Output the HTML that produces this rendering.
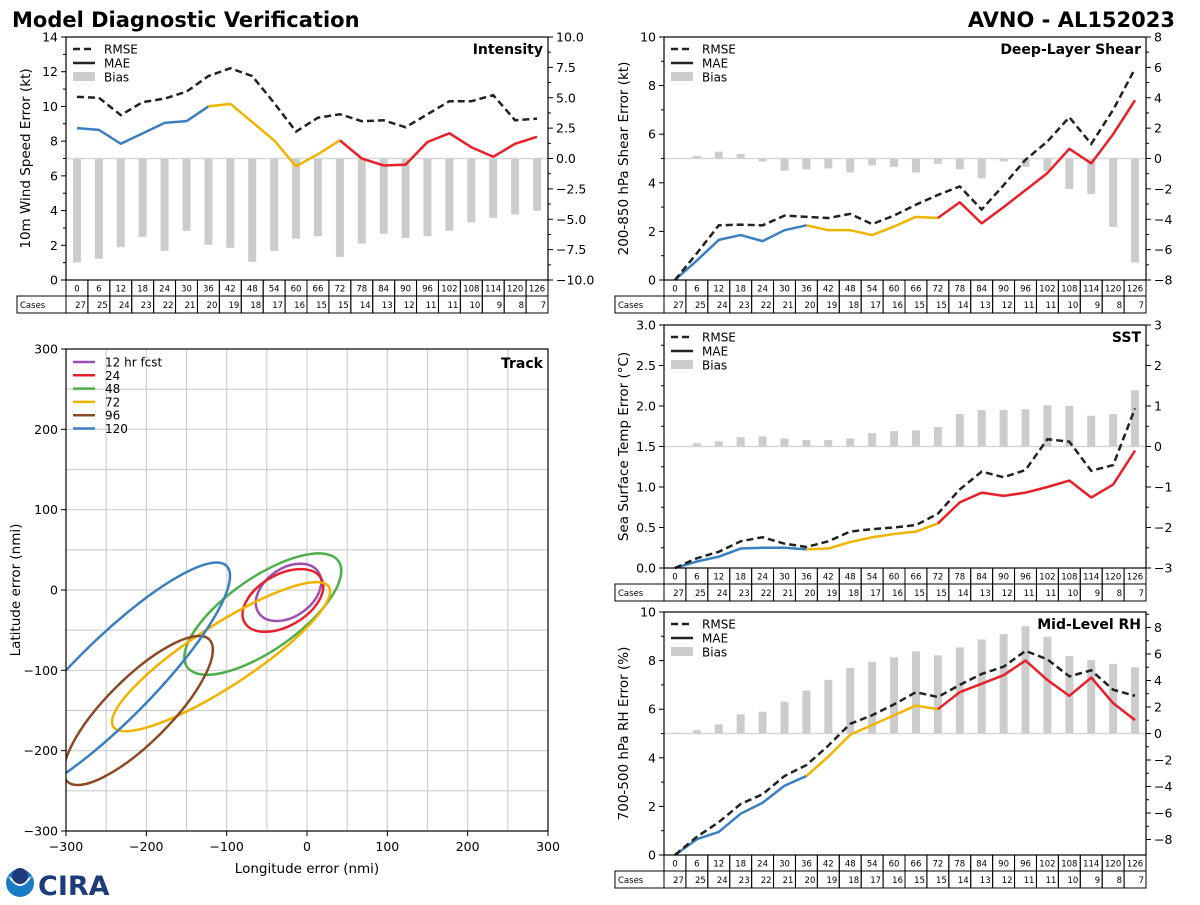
<!DOCTYPE html>
<html><head><meta charset="utf-8"><style>
html,body{margin:0;padding:0;background:#fff;}
svg text{font-family:"DejaVu Sans","Liberation Sans",sans-serif;}
</style></head><body>
<svg id="root" width="1200" height="900" xmlns="http://www.w3.org/2000/svg">
<rect width="1200" height="900" fill="#fff"/>
<text x="12" y="27" font-size="21" font-weight="bold">Model Diagnostic Verification</text>
<text x="1175" y="27" font-size="21" font-weight="bold" text-anchor="end">AVNO - AL152023</text>
<g>
<circle cx="20" cy="883" r="14" fill="#1a7cc4"/>
<path d="M8 876 Q20 896 32 876 Q20 884 8 876Z" fill="#fff"/>
<circle cx="20" cy="876" r="8" fill="#1e3b7a"/>
<text x="38" y="895" font-size="27" font-weight="bold" fill="#1e3b7a" font-family="Liberation Serif,serif">CIRA</text>
</g>
<g id="panels"></g>
</svg>
<script>
const hours = [0,6,12,18,24,30,36,42,48,54,60,66,72,78,84,90,96,102,108,114,120,126];
const cases = [27,25,24,23,22,21,20,19,18,17,16,15,15,14,13,12,11,11,10,9,8,7];

const intRmse = [10.55,10.5,9.5,10.25,10.45,10.85,11.75,12.2,11.75,10.2,8.55,9.35,9.55,9.15,9.2,8.8,9.55,10.3,10.3,10.65,9.2,9.3];
const intMae = [8.75,8.65,7.85,8.45,9.05,9.15,10.0,10.15,9.1,8.05,6.55,7.25,8.05,7.0,6.6,6.65,7.95,8.45,7.65,7.1,7.85,8.25];
const intBias = [-8.55,-8.25,-7.3,-6.45,-7.6,-5.95,-7.1,-7.35,-8.5,-7.6,-6.6,-6.4,-8.1,-7.0,-6.2,-6.55,-6.4,-5.95,-5.25,-4.9,-4.6,-4.3];

const shrRmse = [0,1.1,2.25,2.28,2.25,2.65,2.6,2.55,2.72,2.3,2.65,3.1,3.5,3.85,2.9,3.9,4.95,5.7,6.7,5.6,7.0,8.7];
const shrMae = [0,0.8,1.65,1.85,1.6,2.05,2.25,2.05,2.05,1.85,2.2,2.6,2.55,3.2,2.33,3.0,3.7,4.4,5.4,4.8,6.0,7.4];
const shrBias = [0,0.17,0.45,0.3,-0.2,-0.8,-0.72,-0.65,-0.92,-0.45,-0.55,-0.92,-0.35,-0.72,-1.3,-0.2,-0.55,-0.85,-2.0,-2.35,-4.5,-6.85];

const sstRmse = [0,0.12,0.2,0.33,0.38,0.3,0.26,0.33,0.45,0.48,0.5,0.53,0.67,0.97,1.19,1.12,1.21,1.59,1.56,1.2,1.27,1.97];
const sstMae = [0,0.08,0.14,0.24,0.25,0.25,0.23,0.24,0.32,0.38,0.42,0.45,0.55,0.81,0.93,0.89,0.93,1.0,1.08,0.87,1.03,1.45];
const sstBias = [0,0.08,0.13,0.23,0.25,0.2,0.16,0.16,0.2,0.33,0.38,0.4,0.48,0.8,0.9,0.9,0.92,1.02,1.0,0.76,0.8,1.39];

const rhRmse = [0,0.75,1.35,2.1,2.5,3.25,3.7,4.5,5.4,5.75,6.2,6.7,6.5,7.0,7.45,7.75,8.4,8.05,7.35,7.6,6.8,6.55];
const rhMae = [0,0.65,0.95,1.7,2.15,2.85,3.25,4.05,4.95,5.35,5.75,6.15,6.0,6.7,7.05,7.4,8.0,7.2,6.55,7.3,6.25,5.55];
const rhBias = [0.07,0.25,0.7,1.45,1.65,2.4,3.25,4.05,4.95,5.4,5.75,6.2,5.9,6.5,7.1,7.5,8.1,7.3,5.85,5.55,5.25,5.0];

const trkLabels = ["12 hr fcst","24","48","72","96","120"];
const trkCx = [-23,-30,-55,-107,-210,-245];
const trkCy = [-3,-13,-30,-83,-150,-115];
const trkA = [45,55,115,160,125,205];
const trkB = [30,32,45,38,40,50];
const trkAng = [35,30,35,33,45,45];
const trkTicks = [-300,-200,-100,0,100,200,300];

const NS="http://www.w3.org/2000/svg";
const root=document.getElementById('panels');
function mk(tag,attrs,parent,txt){const e=document.createElementNS(NS,tag);for(const k in attrs)e.setAttribute(k,attrs[k]);if(txt!==undefined)e.textContent=txt;(parent||root).appendChild(e);return e;}
const SEG=[["#3a7fc0",0,6],["#f0b400",6,12],["#e8202a",12,21]];

function panel(o){
  const g=mk('g',{});
  
  
  const L=o.x,R=o.x+482,T=o.y,B=o.y+243,W=482/22;
  const xs=i=>L+(i+0.5)*W;
  const yl=v=>B-(v-o.lmin)/(o.lmax-o.lmin)*243;
  const yr=v=>B-(v-o.rmin)/(o.rmax-o.rmin)*243;
  const z=mk('line',{x1:L,x2:R,y1:yr(0),y2:yr(0),stroke:'#d8d8d8','stroke-width':1.5},g);
  
  
  o.bias.forEach((v,i)=>{
    const r=mk('rect',{x:xs(i)-4,width:8,y:Math.min(yr(0),yr(v)),height:Math.abs(yr(v)-yr(0)),fill:'#cccccc'},g);
    
    
  });
  SEG.forEach(s=>{
    let p=[];for(let i=s[1];i<=s[2];i++)p.push(xs(i)+','+yl(o.mae[i]));
    const l=mk('polyline',{points:p.join(' '),fill:'none',stroke:s[0],'stroke-width':2.5,'stroke-linejoin':'round'},g);
    
    
  });
  const rp=o.rmse.map((v,i)=>xs(i)+','+yl(v)).join(' ');
  const rl=mk('polyline',{points:rp,fill:'none',stroke:'#222','stroke-width':2.5,'stroke-dasharray':'7,4'},g);
  
  
  mk('rect',{x:L,y:T,width:482,height:243,fill:'none',stroke:'#000','stroke-width':1.2},g);
  for(let v=o.lmin;v<=o.lmax+1e-9;v+=o.lstep){
    mk('line',{x1:L-5,x2:L,y1:yl(v),y2:yl(v),stroke:'#000'},g);
    const t=mk('text',{x:L-8,y:yl(v)+4.5,'font-size':12.5,'text-anchor':'end'},g,o.lfmt(v));
    
    
    if(v+o.lstep/2<=o.lmax) mk('line',{x1:L-3,x2:L,y1:yl(v+o.lstep/2),y2:yl(v+o.lstep/2),stroke:'#000'},g);
  }
  for(let v=o.rmin0;v<=o.rmax0+1e-9;v+=o.rstep){
    mk('line',{x1:R,x2:R+5,y1:yr(v),y2:yr(v),stroke:'#000'},g);
    const t=mk('text',{x:R+8,y:yr(v)+4.5,'font-size':12.5},g,o.rfmt(v));
    
    
    if(v+o.rstep/2<=o.rmax) mk('line',{x1:R,x2:R+3,y1:yr(v+o.rstep/2),y2:yr(v+o.rstep/2),stroke:'#000'},g);
  }
  const yt=mk('text',{x:0,y:0,'font-size':13.5,'text-anchor':'middle',transform:`translate(${L-36},${(T+B)/2}) rotate(-90)`},g,o.ytitle);
  
  
  const pt=mk('text',{x:R-5,y:T+17,'font-size':14,'font-weight':'bold','text-anchor':'end'},g,o.title);
  
  
  const lg=mk('g',{},g);
  
  
  mk('line',{x1:L+7,x2:L+29,y1:T+12,y2:T+12,stroke:'#222','stroke-width':2.5,'stroke-dasharray':'7,4'},lg);
  mk('text',{x:L+38,y:T+16.5,'font-size':12},lg,'RMSE');
  mk('line',{x1:L+7,x2:L+29,y1:T+26,y2:T+26,stroke:'#222','stroke-width':2.5},lg);
  mk('text',{x:L+38,y:T+30.5,'font-size':12},lg,'MAE');
  mk('rect',{x:L+7,y:T+35,width:22,height:9,fill:'#cccccc'},lg);
  mk('text',{x:L+38,y:T+44.5,'font-size':12},lg,'Bias');
  const tb=mk('g',{},g);
  
  
  mk('rect',{x:L-49,y:B+16,width:49,height:17,fill:'none',stroke:'#000'},tb);
  mk('text',{x:L-46,y:B+28,'font-size':8.5},tb,'Cases');
  hours.forEach((h,i)=>{
    const x0=L+i*W;
    mk('rect',{x:x0,y:B,width:W,height:16,fill:'none',stroke:'#000'},tb);
    mk('rect',{x:x0,y:B+16,width:W,height:17,fill:'none',stroke:'#000'},tb);
    mk('text',{x:x0+W/2,y:B+11.5,'font-size':8.5,'text-anchor':'middle'},tb,h);
    mk('text',{x:x0+W-2,y:B+28,'font-size':8.5,'text-anchor':'end'},tb,cases[i]);
  });
}
const f1=v=>v.toFixed(1).replace('-','\u2212'), f0=v=>String(Math.round(v)).replace('-','\u2212');
panel({name:'intensity',x:66,y:37,lmin:0,lmax:14,lstep:2,lfmt:f0,rmin:-10,rmax:10,rmin0:-10,rmax0:10,rstep:2.5,rfmt:f1,rmse:intRmse,mae:intMae,bias:intBias,ytitle:'10m Wind Speed Error (kt)',title:'Intensity'});
panel({name:'shear',x:664,y:37,lmin:0,lmax:10,lstep:2,lfmt:f0,rmin:-8,rmax:8,rmin0:-8,rmax0:8,rstep:2,rfmt:f0,rmse:shrRmse,mae:shrMae,bias:shrBias,ytitle:'200-850 hPa Shear Error (kt)',title:'Deep-Layer Shear'});
panel({name:'sst',x:664,y:325,lmin:0,lmax:3,lstep:0.5,lfmt:f1,rmin:-3,rmax:3,rmin0:-3,rmax0:3,rstep:1,rfmt:f0,rmse:sstRmse,mae:sstMae,bias:sstBias,ytitle:'Sea Surface Temp Error (\u00b0C)',title:'SST'});
panel({name:'rh',x:664,y:612,lmin:0,lmax:10,lstep:2,lfmt:f0,rmin:-9.17,rmax:9.17,rmin0:-8,rmax0:8,rstep:2,rfmt:f0,rmse:rhRmse,mae:rhMae,bias:rhBias,ytitle:'700-500 hPa RH Error (%)',title:'Mid-Level RH'});

(function(){
  const L=66,T=349,S=482;
  const X=v=>L+(v+300)/600*S, Y=v=>T+(300-v)/600*S;
  const g=mk('g',{});
  
  
  const cp=mk('clipPath',{id:'tc'},g);mk('rect',{x:L,y:T,width:S,height:S},cp);
  for(let v=-250;v<300;v+=50){
    mk('line',{x1:X(v),x2:X(v),y1:T,y2:T+S,stroke:'#cfcfcf','stroke-width':1.2},g);
    mk('line',{x1:L,x2:L+S,y1:Y(v),y2:Y(v),stroke:'#cfcfcf','stroke-width':1.2},g);
  }
  const cols=['#9b4fb0','#e8202a','#4caf4a','#f0b400','#8b4a23','#3a7fc0'];
  const eg=mk('g',{'clip-path':'url(#tc)'},g);
  trkLabels.forEach((lab,i)=>{
    const e=mk('ellipse',{cx:X(trkCx[i]),cy:Y(trkCy[i]),rx:trkA[i]*S/600,ry:trkB[i]*S/600,fill:'none',stroke:cols[i],'stroke-width':2.5,transform:`rotate(${-trkAng[i]} ${X(trkCx[i])} ${Y(trkCy[i])})`},eg);
    
    
    const ly=T+13+i*13.3;
    mk('line',{x1:L+7,x2:L+29,y1:ly,y2:ly,stroke:cols[i],'stroke-width':2.5},g);
    const t=mk('text',{x:L+39,y:ly+4.5,'font-size':12},g,lab);
    
    
  });
  mk('rect',{x:L,y:T,width:S,height:S,fill:'none',stroke:'#000','stroke-width':1.2},g);
  trkTicks.forEach(v=>{
    mk('line',{x1:X(v),x2:X(v),y1:T+S,y2:T+S+5,stroke:'#000'},g);
    mk('text',{x:X(v),y:T+S+20,'font-size':12.5,'text-anchor':'middle'},g,f0(v));
    mk('line',{x1:L-5,x2:L,y1:Y(v),y2:Y(v),stroke:'#000'},g);
    mk('text',{x:L-8,y:Y(v)+4.5,'font-size':12.5,'text-anchor':'end'},g,f0(v));
  });
  const xt=mk('text',{x:L+S/2,y:T+S+42,'font-size':13.5,'text-anchor':'middle'},g,'Longitude error (nmi)');
  
  
  const yt=mk('text',{x:0,y:0,'font-size':13.5,'text-anchor':'middle',transform:`translate(20,${T+S/2}) rotate(-90)`},g,'Latitude error (nmi)');
  
  
  const tt=mk('text',{x:L+S-5,y:T+19,'font-size':14,'font-weight':'bold','text-anchor':'end'},g,'Track');
  
  
})();
</script>
</body></html>
